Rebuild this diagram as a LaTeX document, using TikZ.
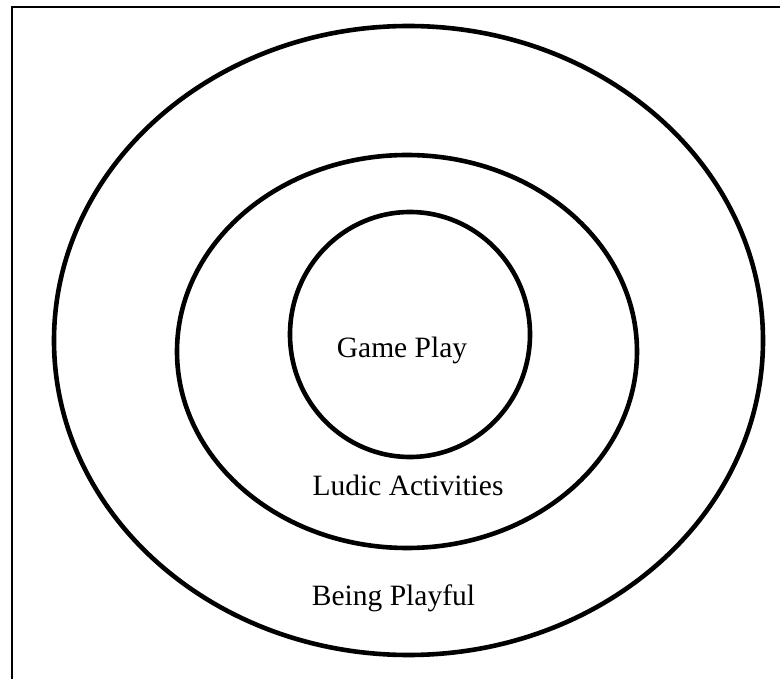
\documentclass[tikz,border=0pt]{standalone}
\usepackage{fontspec}
\setmainfont{Liberation Serif}
\usepackage{tikz}
\usetikzlibrary{positioning}

\begin{document}
\begin{tikzpicture}[x=1pt, y=-1pt,
  ring/.style={draw, line width=4.6pt},
  frame/.style={draw, line width=2.2pt},
  lab/.style={font=\fontsize{29.5}{34}\selectfont, anchor=base, inner sep=0pt}]
  \clip (0,0) rectangle (780,679);
  \draw[frame] (12,7) rectangle (800,700);
  % three nested rings
  \draw[ring] (408.5,340.5) ellipse [x radius=354.5, y radius=314.5];
  \draw[ring] (407,351.5) ellipse [x radius=230, y radius=196.5];
  \draw[ring] (410,334.5) ellipse [x radius=120, y radius=122.5];
  \node[lab] (game) at (402,358) {Game Play};
  \node[lab] (ludic) at (408,495) {Ludic Activities};
  \node[lab] (being) at (393.5,605) {Being Playful};
\end{tikzpicture}
\end{document}
